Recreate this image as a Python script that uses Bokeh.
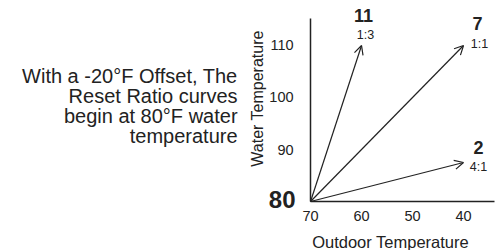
import math
from bokeh.plotting import figure
from bokeh.models import (Range1d, FixedTicker, Arrow, OpenHead, ColumnDataSource, Label)
from bokeh.embed import file_html
from bokeh.resources import INLINE

# ---- data ----
start_outdoor = 70
start_water = 80
curve_numbers = ["11", "7", "2"]
ratios = ["1:3", "1:1", "4:1"]
end_outdoor = [60, 40, 40]
end_water = [110, 110, 87.5]
x_ticks = [70, 60, 50, 40]
y_ticks = [80, 90, 100, 110]
x_axis_end = 34
y_axis_end = 115.2
note_lines = ["With a -20°F Offset, The", "Reset Ratio curves",
              "begin at 80°F water", "temperature"]
x_title = "Outdoor Temperature"
y_title = "Water Temperature"

FONT = "Liberation Sans"
INK = "#222222"

W, H = 500, 250
p = figure(width=W, height=H, x_range=Range1d(130.8, 32.75), y_range=Range1d(70.58, 118.65),
           output_backend="svg", toolbar_location=None, min_border=0)
p.outline_line_color = None
p.grid.visible = False
p.background_fill_color = "white"
p.border_fill_color = "white"

for ax in (p.xaxis[0], p.yaxis[0]):
    ax.axis_line_color = INK
    ax.axis_line_width = 1.5
    ax.major_tick_line_color = None
    ax.minor_tick_line_color = None
    ax.major_tick_out = 0
    ax.major_tick_in = 0
    ax.minor_tick_out = 0
    ax.major_label_text_font = FONT
    ax.major_label_text_font_size = "14.5px"
    ax.major_label_text_color = INK

p.xaxis.fixed_location = start_water
p.xaxis.bounds = (x_axis_end, start_outdoor)
p.xaxis.ticker = FixedTicker(ticks=x_ticks)
p.xaxis.major_label_standoff = 9

p.yaxis.fixed_location = start_outdoor
p.yaxis.bounds = (start_water, y_axis_end)
p.yaxis.ticker = FixedTicker(ticks=y_ticks)
p.yaxis.major_label_overrides = {80: ""}
p.yaxis.major_label_standoff = 17

def lab(text, dx, dy, size, bold=False, align="center", x=start_outdoor, y=start_water, angle=0):
    p.add_layout(Label(x=x, y=y, text=text, x_offset=dx, y_offset=dy, angle=angle,
                       text_align=align, text_baseline="middle", text_font=FONT,
                       text_font_size=size, text_font_style="bold" if bold else "normal",
                       text_color=INK))

# axis titles
lab(x_title, 80, -40, "16.5px")
lab(y_title, -53, 103, "16px", angle=math.pi / 2)

# big bold 80 at origin
lab(str(y_ticks[0]), -15, 2, "24px", bold=True, align="right")

# arrows
src = ColumnDataSource(dict(x0=[start_outdoor] * len(end_outdoor), y0=[start_water] * len(end_water),
                            x1=end_outdoor, y1=end_water))
p.add_layout(Arrow(end=OpenHead(size=9, line_width=1.2, line_color=INK),
                   x_start="x0", y_start="y0", x_end="x1", y_end="y1", source=src,
                   line_width=1.2, line_color=INK))

num_offsets = [(2, 30), (14, 22), (15, 15)]
ratio_offsets = [(4, 10), (16, 1), (15, -4)]
for i in range(len(curve_numbers)):
    dx, dy = num_offsets[i]
    lab(curve_numbers[i], dx, dy, "18px", bold=True, x=end_outdoor[i], y=end_water[i])
    dx, dy = ratio_offsets[i]
    lab(ratios[i], dx, dy, "12.5px", x=end_outdoor[i], y=end_water[i])

# note text
note_dy = [126, 106, 86, 66]
for line, dy in zip(note_lines, note_dy):
    lab(line, -73, dy, "20px", align="right")

open("out.html", "w").write(file_html(p, INLINE))
